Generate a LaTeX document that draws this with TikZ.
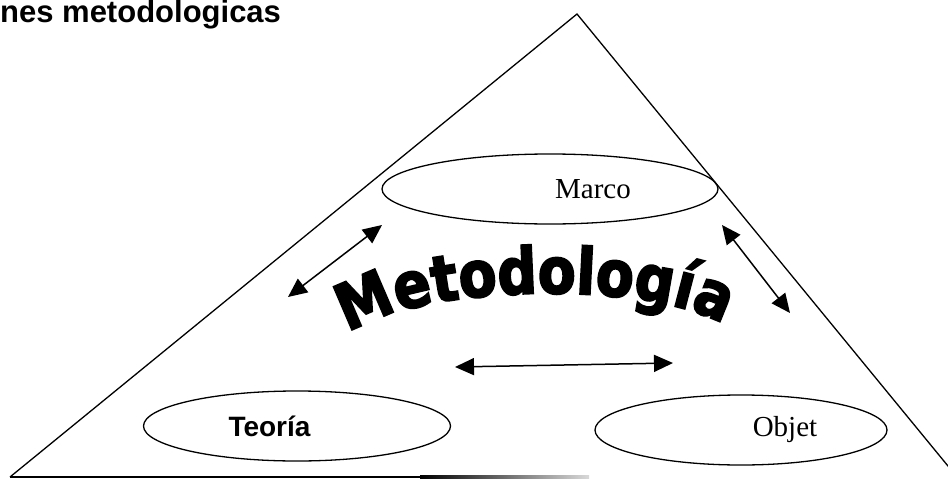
\documentclass[tikz,border=0pt]{standalone}
\usepackage{fontspec}
\setmainfont{Liberation Serif}
\newfontfamily\arialfont{Liberation Sans}
\newfontfamily\wordartfont[BoldFeatures={FakeBold=3, FakeStretch=0.86}]{DejaVu Sans}
\usetikzlibrary{arrows.meta, shapes.geometric, decorations.text}

\begin{document}
\begin{tikzpicture}[x=1pt, y=-1pt,
  font=\fontsize{29}{34}\selectfont,
  oval/.style={draw, ellipse, line width=1.3pt, minimum height=70pt, inner sep=0pt},
  twoway/.style={{Triangle[length=19pt,width=17pt]}-{Triangle[length=19pt,width=17pt]}, line width=1.5pt}]
  \useasboundingbox (0,0) rectangle (948,479);
  \clip (0,0) rectangle (948,479);
  % Pyramid
  \coordinate (top) at (577,14);
  \coordinate (bl) at (10,477);
  \coordinate (br) at (957,477);
  \draw[line width=1.3pt] (bl) -- (top) -- (br);
  \fill (10,475.6) rectangle (420,478.4);
  \shade[left color=black, right color=black!15] (420,475.6) rectangle (589,478.4);

  \node[anchor=base west, inner sep=0pt, font=\arialfont\bfseries\fontsize{31}{36}\selectfont] (title) at (0,23) {nes metodologicas};

  \node[oval, minimum width=336pt] (marco) at (550,189) {\hspace*{86pt}Marco};
  \node[oval, minimum width=307pt, font=\arialfont\bfseries\fontsize{28}{34}\selectfont] (teoria) at (297,426) {Teoría\hspace*{55pt}};
  \node[oval, minimum width=292pt] (objet) at (741,430) {\hspace*{88pt}Objet};

  \path[decorate, decoration={text along path, text align=center,
    text={|\wordartfont\bfseries\fontsize{64}{68}\selectfont|Metodología}}]
    (346,336) .. controls (415,282) and (655,280) .. (726,326);

  \coordinate (l1) at (288,297);
  \coordinate (l2) at (382,225);
  \coordinate (r1) at (722,225);
  \coordinate (r2) at (790,313);
  \coordinate (b1) at (455,367);
  \coordinate (b2) at (673,363);
  \draw[twoway] (l1) to (l2);
  \draw[twoway] (r1) to (r2);
  \draw[twoway] (b1) to (b2);
\end{tikzpicture}
\end{document}
